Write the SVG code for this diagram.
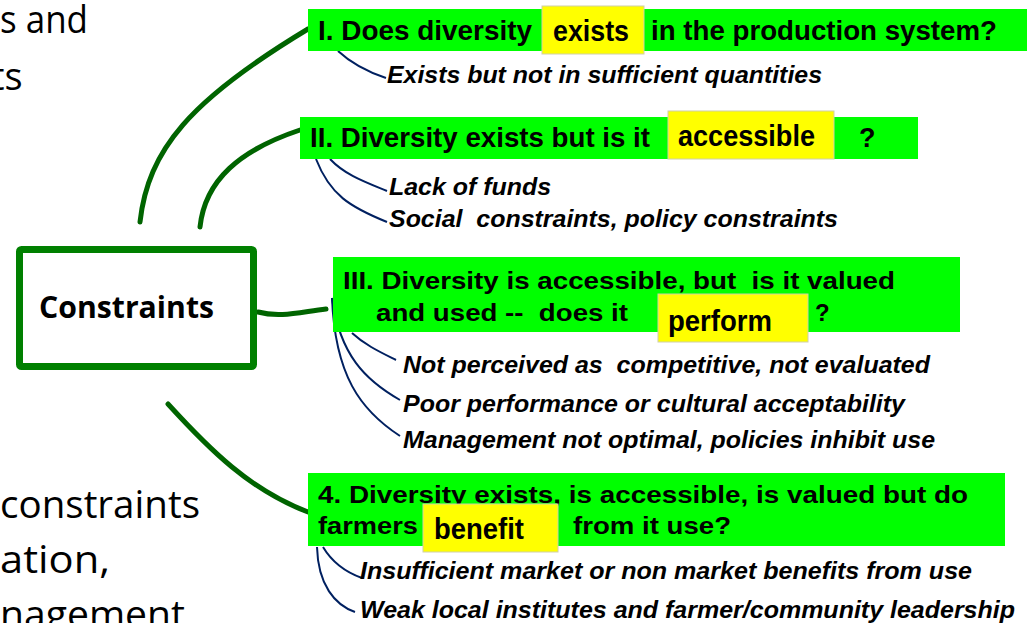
<svg xmlns="http://www.w3.org/2000/svg" width="1033" height="623" viewBox="0 0 1033 623">
<style>
.bg{fill:#ffffff}
.q{fill:#00ff00}
.hl{fill:#ffff00;stroke:#d0d0a8;stroke-width:1}
.qt{font-family:"Liberation Sans",Arial,sans-serif;font-weight:bold;font-size:27px;fill:#000}
.qs{font-family:"Liberation Sans",Arial,sans-serif;font-weight:bold;font-size:24px;fill:#000}
.hlt{font-family:"Liberation Sans",Arial,sans-serif;font-weight:bold;font-size:29px;fill:#000}
.sub{font-family:"Liberation Sans",Arial,sans-serif;font-weight:bold;font-style:italic;font-size:23px;fill:#000}
.side{font-family:"Open Sans","Liberation Sans",sans-serif;font-size:38px;fill:#000}
.main{fill:#fff;stroke:#008000;stroke-width:7}
.mt{font-family:"Open Sans","Liberation Sans",sans-serif;font-weight:bold;font-size:30px;fill:#000}
.gc{fill:none;stroke:#006400;stroke-width:5;stroke-linecap:round}
.bc{fill:none;stroke:#002060;stroke-width:2}
</style>
<rect class="bg" x="0" y="0" width="1033" height="623"/>
<g id="side-text">
<text class="side" x="0" y="33" textLength="88" lengthAdjust="spacingAndGlyphs">s and</text>
<text class="side" x="-9" y="90">ts</text>
<text class="side" x="0" y="518" textLength="200" lengthAdjust="spacingAndGlyphs">constraints</text>
<text class="side" x="0" y="573" textLength="110" lengthAdjust="spacingAndGlyphs">ation,</text>
<text class="side" x="0" y="628" textLength="185" lengthAdjust="spacingAndGlyphs">nagement</text>
</g>
<g id="connectors">
<path class="gc" d="M140,222 C148,150 190,100 308,29"/>
<path class="gc" d="M200,227 C205,180 240,150 300,130"/>
<path class="gc" d="M258,312 C280,318 300,312 326,309"/>
<path class="gc" d="M168,404 C210,450 250,490 308,512"/>
<path class="bc" d="M338,51 C352,64 368,72 386,78"/>
<path class="bc" d="M330,159 C345,175 365,182 387,191"/>
<path class="bc" d="M316,159 C330,195 350,207 387,222"/>
<path class="bc" d="M352,333 C365,345 380,352 396,360"/>
<path class="bc" d="M332,298 C340,355 365,380 400,400"/>
<path class="bc" d="M332,298 C335,375 360,410 400,436"/>
<path class="bc" d="M323,547 C332,562 345,572 362,578"/>
<path class="bc" d="M317,547 C318,585 335,605 355,612"/>
</g>
<g id="constraints">
<rect class="main" x="19.5" y="249.5" width="234" height="117" rx="2"/>
<text class="mt" x="39" y="318" textLength="175" lengthAdjust="spacingAndGlyphs">Constraints</text>
</g>
<g id="q1">
<rect class="q" x="308" y="9" width="719" height="42"/>
<rect class="hl" x="542" y="6" width="102" height="48"/>
<text class="qt" x="318" y="40" textLength="214" lengthAdjust="spacingAndGlyphs">I. Does diversity</text>
<text class="hlt" x="553" y="41" textLength="76" lengthAdjust="spacingAndGlyphs">exists</text>
<text class="qt" x="651" y="40" textLength="346" lengthAdjust="spacingAndGlyphs">in the production system?</text>
<text class="sub" x="387" y="83" textLength="435" lengthAdjust="spacingAndGlyphs">Exists but not in sufficient quantities</text>
</g>
<g id="q2">
<rect class="q" x="300" y="117" width="618" height="42"/>
<rect class="hl" x="668" y="111" width="166" height="48"/>
<text class="qt" x="310" y="147" textLength="340" lengthAdjust="spacingAndGlyphs">II. Diversity exists but is it</text>
<text class="hlt" x="678" y="146" textLength="137" lengthAdjust="spacingAndGlyphs">accessible</text>
<text class="qt" x="859" y="147">?</text>
<text class="sub" x="389" y="195" textLength="162" lengthAdjust="spacingAndGlyphs">Lack of funds</text>
<text class="sub" x="389" y="227" textLength="449" lengthAdjust="spacingAndGlyphs" xml:space="preserve">Social  constraints, policy constraints</text>
</g>
<g id="q3">
<rect class="q" x="333" y="257" width="627" height="75"/>
<rect class="hl" x="658" y="294" width="150" height="48"/>
<text class="qs" x="343" y="289" textLength="552" lengthAdjust="spacingAndGlyphs" xml:space="preserve">III. Diversity is accessible, but  is it valued</text>
<text class="qs" x="376" y="321" textLength="252" lengthAdjust="spacingAndGlyphs" xml:space="preserve">and used --  does it</text>
<text class="hlt" x="668" y="331" textLength="104" lengthAdjust="spacingAndGlyphs">perform</text>
<text class="qs" x="815" y="321">?</text>
<text class="sub" x="403" y="373" textLength="527" lengthAdjust="spacingAndGlyphs" xml:space="preserve">Not perceived as  competitive, not evaluated</text>
<text class="sub" x="403" y="412" textLength="502" lengthAdjust="spacingAndGlyphs">Poor performance or cultural acceptability</text>
<text class="sub" x="403" y="448" textLength="532" lengthAdjust="spacingAndGlyphs">Management not optimal, policies inhibit use</text>
</g>
<g id="q4">
<rect class="q" x="308" y="473" width="697" height="73"/>
<text class="qs" x="318" y="503" textLength="650" lengthAdjust="spacingAndGlyphs">4. Diversity exists, is accessible, is valued but do</text>
<rect class="hl" x="423" y="504" width="135" height="48"/>
<text class="qs" x="318" y="534" textLength="100" lengthAdjust="spacingAndGlyphs">farmers</text>
<text class="hlt" x="434" y="539" textLength="90" lengthAdjust="spacingAndGlyphs">benefit</text>
<text class="qs" x="573" y="534" textLength="158" lengthAdjust="spacingAndGlyphs">from it use?</text>
<text class="sub" x="360" y="579" textLength="612" lengthAdjust="spacingAndGlyphs">Insufficient market or non market benefits from use</text>
<text class="sub" x="360" y="618" textLength="655" lengthAdjust="spacingAndGlyphs">Weak local institutes and farmer/community leadership</text>
</g>
</svg>
